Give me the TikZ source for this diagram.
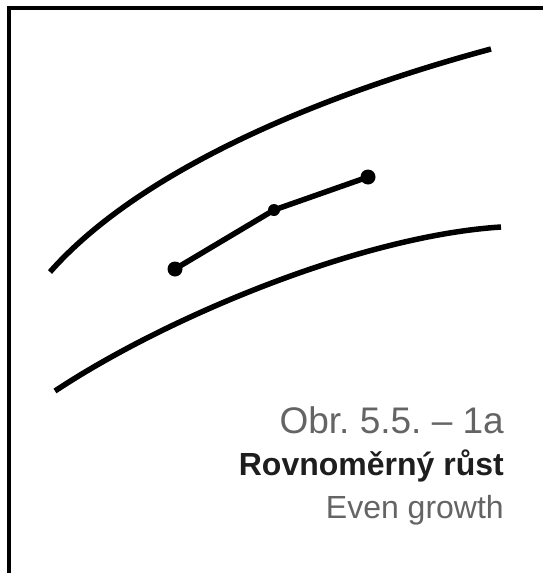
\documentclass[tikz,border=0pt]{standalone}
\usepackage{fontspec}
\setmainfont{Liberation Sans}
\usetikzlibrary{positioning}
\definecolor{obrGray}{RGB}{100,100,100}
\definecolor{obrText}{RGB}{30,30,30}

\begin{document}
\frenchspacing
\begin{tikzpicture}[x=1pt,y=-1pt,
    curve/.style={line width=5.5pt},
    dot/.style={circle, fill=black, inner sep=0pt, minimum size=15pt},
    smalldot/.style={circle, fill=black, inner sep=0pt, minimum size=12pt},
    captext/.style={anchor=base east, inner sep=0pt}
  ]
  \useasboundingbox (0,0) rectangle (542,573);
  \draw[line width=4pt] (8.5,575) -- (8.5,8) -- (544,8);
  % growth lines
  \coordinate (uA) at (50,272);
  \coordinate (uB) at (491,49);
  \coordinate (lA) at (55,391);
  \coordinate (lB) at (501,227);
  \draw[curve] (uA) .. controls (140,170) and (320,95) .. (uB);
  \draw[curve] (lA) .. controls (165,318) and (360,236) .. (lB);
  \node[dot] (d1) at (175,269) {};
  \node[smalldot] (d2) at (274,210) {};
  \node[dot] (d3) at (368,177) {};
  \draw[curve] (d1.center) -- (d2.center) -- (d3.center);
  % caption
  \node[captext, font=\fontsize{37}{40}\selectfont, text=obrGray] (obr) at (504,433) {Obr. 5.5. – 1a};
  \node[captext, font=\fontsize{32}{36}\selectfont\bfseries, text=obrText] (cz) at (504,475) {Rovnoměrný růst};
  \node[captext, font=\fontsize{32}{36}\selectfont, text=obrGray] (en) at (504,518) {Even growth};
\end{tikzpicture}
\end{document}
